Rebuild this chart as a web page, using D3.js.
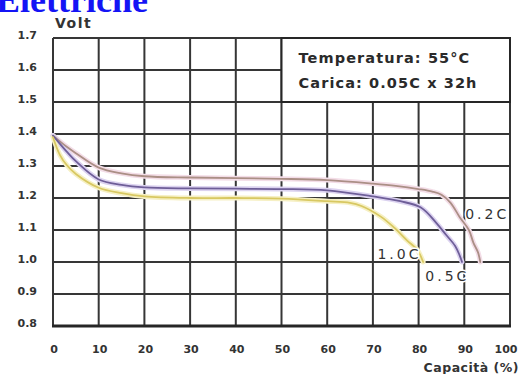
<!DOCTYPE html>
<html>
<head>
<meta charset="utf-8">
<script src="https://cdn.jsdelivr.net/npm/d3@7"></script>
<style>
  html, body { margin: 0; padding: 0; background: #fff; }
  svg { display: block; }
</style>
</head>
<body>
<svg id="chart" width="523" height="374"></svg>
<script>
// Discharge curves at 55°C: voltage vs. delivered capacity for three rates
const xTicks = [0, 10, 20, 30, 40, 50, 60, 70, 80, 90, 100];
const yTicks = [0.8, 0.9, 1.0, 1.1, 1.2, 1.3, 1.4, 1.5, 1.6, 1.7];
const yTickLabels = ["0.8", "0.9", "1.0", "1.1", "1.2", "1.3", "1.4", "1.5", "1.6", "1.7"];

const seriesNames = ["0.2C", "0.5C", "1.0C"];

const capacity02 = [0, 3, 5, 10, 15, 20, 30, 40, 50, 60, 70, 75, 80, 83, 85, 87, 89, 91, 92, 93, 93.5];
const volt02     = [1.395, 1.36, 1.34, 1.295, 1.277, 1.268, 1.264, 1.262, 1.26, 1.256, 1.245, 1.238, 1.228, 1.22, 1.21, 1.185, 1.14, 1.1, 1.06, 1.03, 1.0];

const capacity05 = [0, 3, 5, 10, 15, 20, 30, 40, 50, 60, 70, 76, 80.5, 84, 86, 88, 89, 89.5];
const volt05     = [1.395, 1.345, 1.315, 1.258, 1.241, 1.233, 1.23, 1.229, 1.228, 1.224, 1.205, 1.19, 1.17, 1.12, 1.085, 1.05, 1.02, 1.0];

const capacity10 = [0, 1.5, 3, 5, 10, 15, 20, 30, 40, 50, 60, 65, 67.5, 71.8, 74.6, 77.5, 79.7, 81];
const volt10     = [1.39, 1.335, 1.303, 1.275, 1.232, 1.215, 1.205, 1.2, 1.2, 1.198, 1.19, 1.185, 1.175, 1.141, 1.108, 1.067, 1.038, 1.0];

const lineColors = ["#ab8f86", "#6e5e98", "#d8c862"];
const haloColors = ["#f3dde7", "#dcd3f0", "#f6f0c4"];

const svg = d3.select("#chart");
const margin = { left: 53, right: 13, top: 38, bottom: 48 };
const W = 523, H = 374;

const x = d3.scaleLinear().domain([0, 100]).range([margin.left, W - margin.right]);
const y = d3.scaleLinear().domain([0.8, 1.7]).range([H - margin.bottom, margin.top]);

const ink = "#262626";

// Heading, partially off the top edge
svg.append("text")
  .attr("x", -4).attr("y", 12)
  .attr("font-family", "Liberation Serif, Times New Roman, serif")
  .attr("font-weight", "bold")
  .attr("font-size", 36)
  .attr("fill", "#1414f5")
  .text("Elettriche");

// Grid
const grid = svg.append("g").attr("stroke", ink).attr("stroke-width", 2).attr("opacity", 0.92);
grid.selectAll("line.v").data(xTicks).join("line")
  .attr("x1", d => x(d)).attr("x2", d => x(d))
  .attr("y1", y(1.7)).attr("y2", y(0.8));
grid.selectAll("line.h").data(yTicks).join("line")
  .attr("x1", x(0)).attr("x2", x(100))
  .attr("y1", d => y(d)).attr("y2", d => y(d));

// Heavier baseline
svg.append("line")
  .attr("x1", x(0) - 1).attr("x2", x(100) + 1)
  .attr("y1", y(0.8)).attr("y2", y(0.8))
  .attr("stroke", ink).attr("stroke-width", 3);

// Conditions box in the top-right cells
svg.append("rect")
  .attr("x", x(50)).attr("y", y(1.7))
  .attr("width", x(100) - x(50)).attr("height", y(1.5) - y(1.7))
  .attr("fill", "#fff").attr("stroke", ink).attr("stroke-width", 2);

const boxText = svg.append("g")
  .attr("font-family", "DejaVu Sans, Verdana, sans-serif")
  .attr("font-weight", "bold")
  .attr("font-size", 14.5)
  .attr("letter-spacing", 1.1)
  .attr("fill", "#2a2a2a");
boxText.append("text").attr("x", x(50) + 17).attr("y", y(1.7) + 25).text("Temperatura: 55°C");
boxText.append("text").attr("x", x(50) + 17).attr("y", y(1.7) + 50).text("Carica: 0.05C x 32h");

// Curves
const series = [
  { name: seriesNames[0], xs: capacity02, ys: volt02 },
  { name: seriesNames[1], xs: capacity05, ys: volt05 },
  { name: seriesNames[2], xs: capacity10, ys: volt10 }
];

const line = d3.line()
  .x(d => x(d[0])).y(d => y(d[1]))
  .curve(d3.curveCatmullRom.alpha(0.5));

const curves = svg.append("g").attr("fill", "none");
series.forEach((s, i) => {
  const pts = s.xs.map((c, k) => [c, s.ys[k]]);
  curves.append("path").attr("d", line(pts))
    .attr("stroke", haloColors[i]).attr("stroke-width", 5).attr("stroke-linecap", "round");
});
series.forEach((s, i) => {
  const pts = s.xs.map((c, k) => [c, s.ys[k]]);
  curves.append("path").attr("d", line(pts))
    .attr("stroke", lineColors[i]).attr("stroke-width", 1.8).attr("stroke-linecap", "round");
});

// Series labels
const labelPos = [
  { cx: 95, v: 1.135 },
  { cx: 86.3, v: 0.94 },
  { cx: 75.8, v: 1.01 }
];
const seriesLabels = svg.append("g")
  .attr("font-family", "DejaVu Sans, Verdana, sans-serif")
  .attr("font-size", 14)
  .attr("letter-spacing", 3)
  .attr("fill", "#333")
  .attr("text-anchor", "middle");
series.forEach((s, i) => {
  seriesLabels.append("text")
    .attr("x", x(labelPos[i].cx)).attr("y", y(labelPos[i].v))
    .attr("stroke", "#fff").attr("stroke-width", 3).attr("paint-order", "stroke")
    .text(s.name);
});

// Axis labels
const labelFont = "DejaVu Sans, Verdana, sans-serif";
svg.append("g")
  .attr("font-family", labelFont).attr("font-weight", "bold").attr("font-size", 11)
  .attr("fill", "#333").attr("text-anchor", "end")
  .selectAll("text").data(yTicks).join("text")
  .attr("x", 37).attr("y", d => y(d) + 1)
  .text((d, i) => yTickLabels[i]);

svg.append("g")
  .attr("font-family", labelFont).attr("font-weight", "bold").attr("font-size", 11)
  .attr("fill", "#333").attr("text-anchor", "middle")
  .selectAll("text").data(xTicks).join("text")
  .attr("x", d => x(d) + (d === 100 ? -4 : 1)).attr("y", 353)
  .text(d => d);

svg.append("text")
  .attr("x", 519).attr("y", 372)
  .attr("font-family", labelFont).attr("font-weight", "bold").attr("font-size", 12.5)
  .attr("letter-spacing", 0.5)
  .attr("fill", "#333").attr("text-anchor", "end")
  .text("Capacità (%)");

svg.append("text")
  .attr("x", 55).attr("y", 28)
  .attr("font-family", labelFont).attr("font-weight", "bold").attr("font-size", 14)
  .attr("letter-spacing", 1.5)
  .attr("fill", "#333")
  .text("Volt");
</script>
</body>
</html>
